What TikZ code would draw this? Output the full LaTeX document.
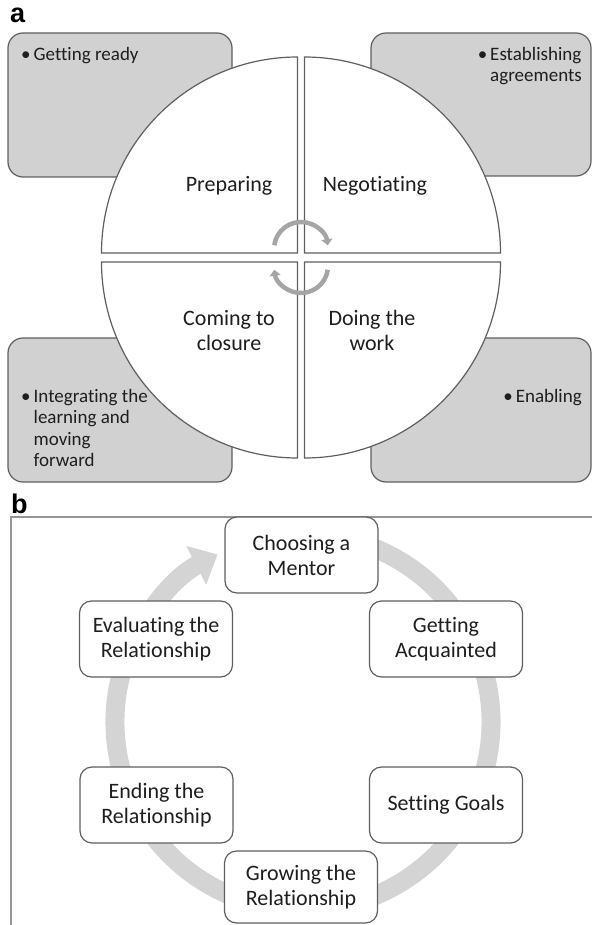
\documentclass[tikz,border=0pt]{standalone}
\usepackage{fontspec}
\setmainfont{Carlito}[Ligatures=NoCommon]
\newfontfamily\labelfont{Liberation Sans}
\usetikzlibrary{arrows.meta}

\definecolor{boxfill}{RGB}{209,209,209}
\definecolor{edgegray}{RGB}{95,95,95}
\definecolor{ringgray}{RGB}{212,212,212}
\definecolor{turngray}{RGB}{165,165,165}
\definecolor{framegray}{RGB}{150,150,150}
\definecolor{inkcol}{RGB}{30,30,30}

\tikzset{
  x=1pt, y={(0pt,-1pt)},
  panellabel/.style={font=\labelfont\bfseries\fontsize{27}{30}\selectfont, inner sep=0pt},
  graybox/.style={draw=edgegray, fill=boxfill, line width=1.2pt, rounded corners=15pt},
  quarter/.style={draw=edgegray, fill=white, line width=1.2pt},
  phase/.style={font=\fontsize{22}{25}\selectfont, text=inkcol, inner sep=0pt},
  bullets/.style={font=\fontsize{19}{21.5}\selectfont, text=inkcol, inner sep=0pt},
  turn/.style={draw=turngray, line width=4.5pt, -{Triangle[length=6pt, width=11pt]}},
  stagebox/.style={draw=edgegray, fill=white, line width=1.2pt, rounded corners=12pt,
    minimum width=153pt, minimum height=76pt, align=center, inner sep=0pt,
    font=\fontsize{22}{25}\selectfont, text=inkcol},
}

\begin{document}
\begin{tikzpicture}
\useasboundingbox (0,0) rectangle (592,925);

% ---------- panel a ----------
\node[panellabel, anchor=north west] (la) at (10,8) {a};

\draw[graybox] (8,33) rectangle (232,177);
\draw[graybox] (371,33) rectangle (591,176);
\draw[graybox] (8,338) rectangle (232,482);
\draw[graybox] (371,338) rectangle (591,482);

% four quarters of the disc
\draw[quarter] (297.5,253) -- (101.5,253) arc[start angle=180, end angle=270, radius=196] -- cycle;
\draw[quarter] (304.5,253) -- (304.5,57) arc[start angle=270, end angle=360, radius=196] -- cycle;
\draw[quarter] (304.5,262) -- (500.5,262) arc[start angle=0, end angle=90, radius=196] -- cycle;
\draw[quarter] (297.5,262) -- (297.5,458) arc[start angle=90, end angle=180, radius=196] -- cycle;

\node[phase, anchor=base] (prep) at (229,192) {Preparing};
\node[phase, anchor=base] (nego) at (375,192) {Negotiating};
\node[phase, anchor=north] (clos) at (229,307.5) {\begin{tabular}{@{}c@{}}Coming to\\closure\end{tabular}};
\node[phase, anchor=north] (work) at (372,307.5) {\begin{tabular}{@{}c@{}}Doing the\\work\end{tabular}};

% turning arrows in the middle
\draw[turn] (301,249) ++(188:27) arc[start angle=188, end angle=352, radius=27];
\draw[turn] (301,266) ++(8:27) arc[start angle=8, end angle=172, radius=27];

% bullet texts
\node[bullets, anchor=north west] (ready) at (21,45)
  {\begin{tabular}{@{}l@{\hspace{3pt}}l@{}}•&Getting ready\end{tabular}};
\node[bullets, anchor=north east] (agree) at (582,45)
  {\begin{tabular}{@{}l@{\hspace{3pt}}l@{}}•&Establishing\\&agreements\end{tabular}};
\node[bullets, anchor=north west] (integ) at (21,387)
  {\begin{tabular}{@{}l@{\hspace{3pt}}l@{}}•&Integrating the\\&learning and\\&moving\\&forward\end{tabular}};
\node[bullets, anchor=north east] (enab) at (582,387)
  {\begin{tabular}{@{}l@{\hspace{3pt}}l@{}}•&Enabling\end{tabular}};

% ---------- panel b ----------
\node[panellabel, anchor=north west] (lb) at (11,494) {b};
\draw[framegray, line width=2pt] (592,516.5) -- (10.5,516.5) -- (10.5,925);

% cycle ring behind the stages
\draw[ringgray, line width=19pt, -{Triangle[length=24pt, width=42pt]}]
  (303,722) ++(-70:188) arc[start angle=-70, end angle=243, radius=188];

\node[stagebox] (choose) at (301.5,555) {Choosing a\\Mentor};
\node[stagebox] (meet)   at (446,639)   {Getting\\Acquainted};
\node[stagebox] (goals)  at (446,805)   {Setting Goals};
\node[stagebox, minimum height=72pt] (grow) at (301,887) {Growing the\\Relationship};
\node[stagebox] (endrel) at (156.5,805) {Ending the\\Relationship};
\node[stagebox] (evalr)  at (156,639)   {Evaluating the\\Relationship};
\end{tikzpicture}
\end{document}
